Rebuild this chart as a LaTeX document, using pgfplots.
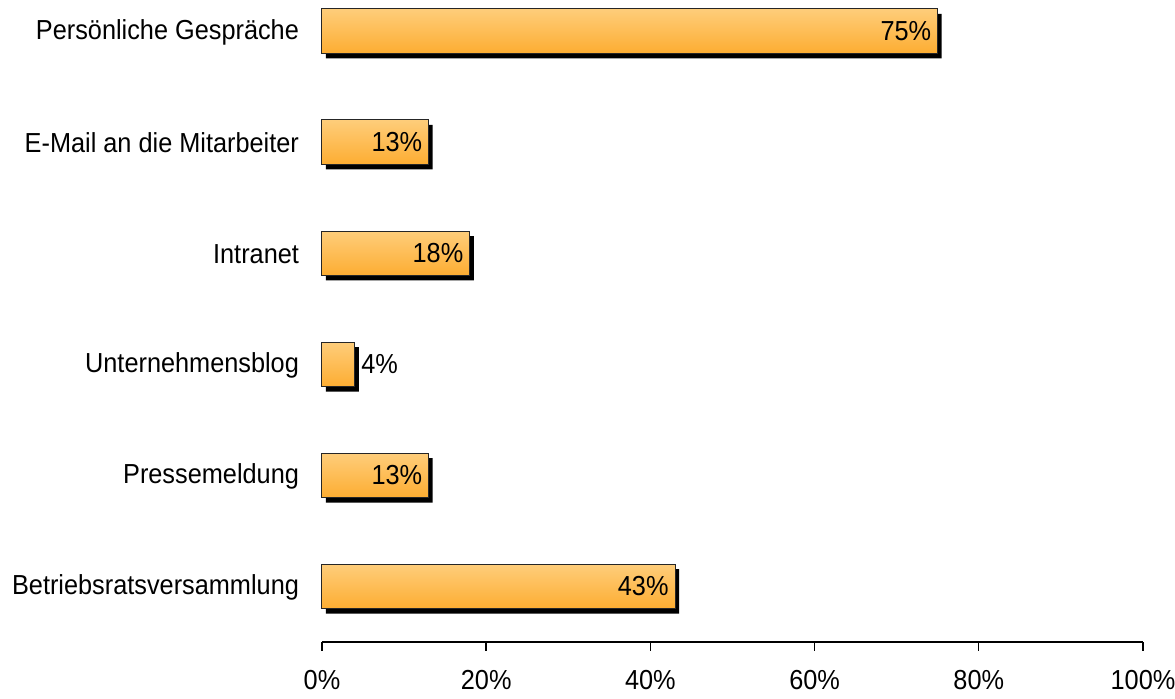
\documentclass[border=0pt]{standalone}
\usepackage{pgfplots}
\pgfplotsset{compat=1.18}
\usepackage{fontspec}
\setmainfont{Liberation Sans}[FakeStretch=0.92]
\definecolor{bartop}{RGB}{254,205,122}
\definecolor{barbot}{RGB}{253,173,50}
\begin{document}
\begin{tikzpicture}
\path[use as bounding box] (-161pt,-28.5pt) rectangle (426.5pt,321pt);
\begin{axis}[
  at={(0,0)}, anchor=south west,
  scale only axis,
  width=410.5pt, height=321pt,
  xmin=0, xmax=100, ymin=-0.5, ymax=5.28,
  xbar, bar width=0.4, bar shift=0pt,
  axis x line*=bottom, axis y line*=left,
  y axis line style={draw=none},
  x axis line style={line width=0.7pt, black},
  ytick={0,1,2,3,4,5},
  yticklabels={Betriebsratsversammlung,Pressemeldung,Unternehmensblog,Intranet,E-Mail an die Mitarbeiter,Persönliche Gespräche},
  ytick style={draw=none},
  yticklabel style={xshift=-3.5pt, yshift=-0.5pt},
  xtick={0,20,40,60,80,100},
  xticklabels={0\%,20\%,40\%,60\%,80\%,100\%},
  xtick style={line width=0.7pt, black},
  tick align=outside, major tick length=4.5pt,
  font=\fontsize{13.75}{16}\selectfont,
  xticklabel style={yshift=-6pt},
  /pgf/number format/assume math mode=true,
  clip=false,
  barstyle/.style={
    draw=black!85, line width=0.5pt,
    top color=bartop, bottom color=barbot,
    nodes near coords={\pgfmathprintnumber{\pgfplotspointmeta}\%},
    point meta=x,
  },
  inlabel/.style={nodes near coords style={anchor=east, inner sep=0pt, xshift=-3pt, black}},
  outlabel/.style={nodes near coords style={anchor=west, inner sep=0pt, xshift=3pt, black}},
]
% shadows
\addplot[fill=black, draw=none, transform canvas={xshift=2pt, yshift=-2.5pt}]
  coordinates {(43,0) (13,1) (4,2) (18,3) (13,4) (75,5)};
% bars
\addplot[barstyle, inlabel] coordinates {(43,0)};
\addplot[barstyle, inlabel] coordinates {(13,1)};
\addplot[barstyle, outlabel] coordinates {(4,2)};
\addplot[barstyle, inlabel] coordinates {(18,3)};
\addplot[barstyle, inlabel] coordinates {(13,4)};
\addplot[barstyle, inlabel] coordinates {(75,5)};
\end{axis}
\end{tikzpicture}
\end{document}
